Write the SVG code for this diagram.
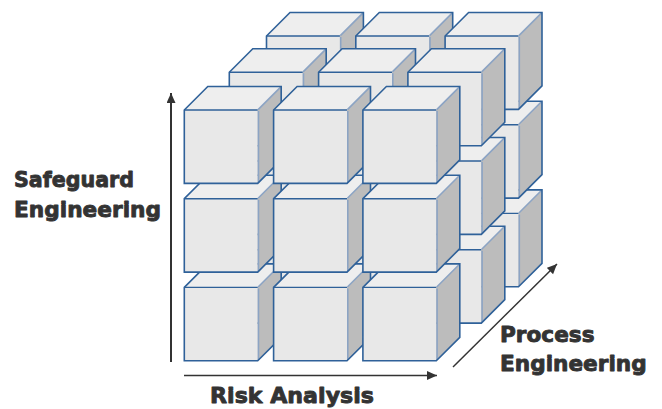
<svg xmlns="http://www.w3.org/2000/svg" xmlns:xlink="http://www.w3.org/1999/xlink" width="662" height="409" viewBox="0 0 662 409">
<style>
.front{fill:#e8e8e8}
.top{fill:#eeeeee}
.right{fill:#bcbcbc}
.outline{fill:none;stroke:#2f6199;stroke-width:1.6;stroke-linejoin:miter}
.inner{fill:none;stroke:#2f6199;stroke-width:1.4}
.soft{fill:none;stroke:#8ca4c4;stroke-width:1.6}
.lbl{font-family:"DejaVu Sans","Verdana",sans-serif;font-weight:bold;font-size:22px;fill:#333333;stroke:#333333;stroke-width:0.9;stroke-linejoin:round}
.ax{stroke:#333333;fill:none}
</style>
<defs>
<g id="cube">
<rect class="front" x="0" y="0" width="73.4" height="73.4"/>
<polygon class="top" points="0,0 23.5,-23.5 96.9,-23.5 73.4,0"/>
<polygon class="right" points="73.4,0 96.9,-23.5 96.9,49.9 73.4,73.4"/>
<path class="soft" d="M74.2,1 V72.6 M73.8,-0.4 L96.3,-22.9"/>
<path class="inner" d="M0,0 H73.4"/>
<path class="outline" d="M0,73.4 V0 L23.5,-23.5 H96.9 V49.9 L73.4,73.4 Z"/>
</g>
<marker id="ah" markerUnits="userSpaceOnUse" markerWidth="12" markerHeight="10" refX="10" refY="4.5" orient="auto">
<path d="M0,0 L10,4.5 L0,9 Z" fill="#333333"/>
</marker>
</defs>
<g id="layer-back">
<g id="c-b-3-1"><use xlink:href="#cube" x="266.5" y="213.4"/></g>
<g id="c-b-3-2"><use xlink:href="#cube" x="355.8" y="213.4"/></g>
<g id="c-b-3-3"><use xlink:href="#cube" x="445.1" y="213.4"/></g>
<g id="c-b-2-1"><use xlink:href="#cube" x="266.5" y="124.7"/></g>
<g id="c-b-2-2"><use xlink:href="#cube" x="355.8" y="124.7"/></g>
<g id="c-b-2-3"><use xlink:href="#cube" x="445.1" y="124.7"/></g>
<g id="c-b-1-1"><use xlink:href="#cube" x="266.5" y="36"/></g>
<g id="c-b-1-2"><use xlink:href="#cube" x="355.8" y="36"/></g>
<g id="c-b-1-3"><use xlink:href="#cube" x="445.1" y="36"/></g>
</g>
<g id="layer-middle">
<g id="c-m-3-1"><use xlink:href="#cube" x="229.3" y="249.7"/></g>
<g id="c-m-3-2"><use xlink:href="#cube" x="318.6" y="249.7"/></g>
<g id="c-m-3-3"><use xlink:href="#cube" x="407.9" y="249.7"/></g>
<g id="c-m-2-1"><use xlink:href="#cube" x="229.3" y="161"/></g>
<g id="c-m-2-2"><use xlink:href="#cube" x="318.6" y="161"/></g>
<g id="c-m-2-3"><use xlink:href="#cube" x="407.9" y="161"/></g>
<g id="c-m-1-1"><use xlink:href="#cube" x="229.3" y="72.3"/></g>
<g id="c-m-1-2"><use xlink:href="#cube" x="318.6" y="72.3"/></g>
<g id="c-m-1-3"><use xlink:href="#cube" x="407.9" y="72.3"/></g>
</g>
<g id="layer-front">
<g id="c-f-3-1"><use xlink:href="#cube" x="184.3" y="287.4"/></g>
<g id="c-f-3-2"><use xlink:href="#cube" x="273.6" y="287.4"/></g>
<g id="c-f-3-3"><use xlink:href="#cube" x="362.9" y="287.4"/></g>
<g id="c-f-2-1"><use xlink:href="#cube" x="184.3" y="198.7"/></g>
<g id="c-f-2-2"><use xlink:href="#cube" x="273.6" y="198.7"/></g>
<g id="c-f-2-3"><use xlink:href="#cube" x="362.9" y="198.7"/></g>
<g id="c-f-1-1"><use xlink:href="#cube" x="184.3" y="110"/></g>
<g id="c-f-1-2"><use xlink:href="#cube" x="273.6" y="110"/></g>
<g id="c-f-1-3"><use xlink:href="#cube" x="362.9" y="110"/></g>
</g>
<g id="connectors">
<line class="ax" x1="171" y1="362" x2="171" y2="93" stroke-width="2" marker-end="url(#ah)"/>
<line class="ax" x1="184" y1="375.5" x2="437" y2="375.5" stroke-width="1.5" marker-end="url(#ah)"/>
<line class="ax" x1="453" y1="367" x2="557" y2="264" stroke-width="1.5" marker-end="url(#ah)"/>
</g>
<g id="labels">
<text class="lbl" x="14" y="187.3" textLength="120" lengthAdjust="spacingAndGlyphs">Safeguard</text>
<text class="lbl" x="14" y="217.3" textLength="147" lengthAdjust="spacingAndGlyphs">Engineering</text>
<text class="lbl" x="210" y="402.7" textLength="164" lengthAdjust="spacingAndGlyphs">Risk Analysis</text>
<text class="lbl" x="500" y="342.3" textLength="94.5" lengthAdjust="spacingAndGlyphs">Process</text>
<text class="lbl" x="500" y="370.7" textLength="146.7" lengthAdjust="spacingAndGlyphs">Engineering</text>
</g>
</svg>
